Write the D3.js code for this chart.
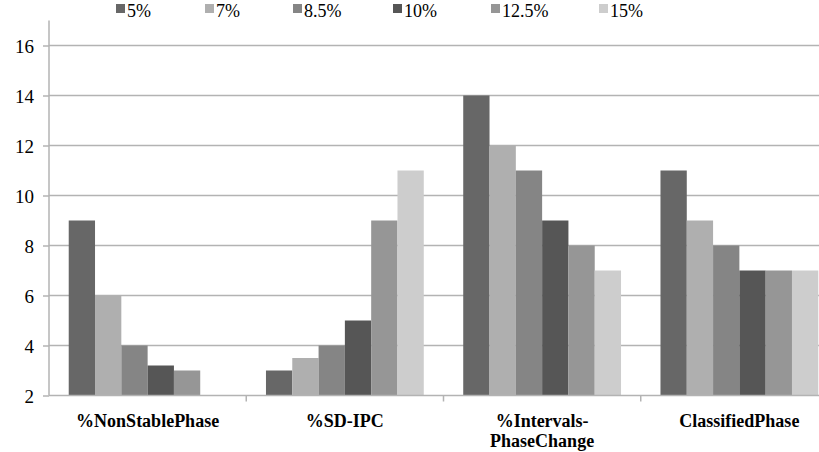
<!DOCTYPE html>
<html>
<head>
<meta charset="utf-8">
<script src="https://cdn.jsdelivr.net/npm/d3@7"></script>
<style>
  html, body { margin: 0; padding: 0; background: #fff; }
  svg { display: block; }
</style>
</head>
<body>
<svg id="chart" width="819" height="452" font-family="Liberation Serif"></svg>
<script>
// Metric categories (x axis)
const categories = ["%NonStablePhase", "%SD-IPC", "%Intervals-PhaseChange", "ClassifiedPhase"];
// Category label lines as drawn under the axis
const categoryLines = [["%NonStablePhase"], ["%SD-IPC"], ["%Intervals-", "PhaseChange"], ["ClassifiedPhase"]];
// Threshold series
const seriesNames = ["5%", "7%", "8.5%", "10%", "12.5%", "15%"];
// Values per series, one entry per category
const s5   = [9,   3,   14, 11];
const s7   = [6,   3.5, 12, 9];
const s85  = [4,   4,   11, 8];
const s10  = [3.2, 5,   9,  7];
const s125 = [3,   9,   8,  7];
const s15  = [2,   11,  7,  7];
const seriesValues = [s5, s7, s85, s10, s125, s15];
const seriesColors = ["#676767", "#afafaf", "#858585", "#565656", "#969696", "#cdcdcd"];
// Y axis
const yTicks = [2, 4, 6, 8, 10, 12, 14, 16];
const yDomain = [2, 17];

const serif = "Liberation Serif";

const svg = d3.select("#chart");
const plotLeft = 49, plotRight = 838, plotTop = 20.5, plotBottom = 395.5;

const x = d3.scaleBand().domain(categories).range([plotLeft, plotRight]).paddingInner(0).paddingOuter(0);
const inner = d3.scaleBand().domain(seriesNames).range([0, x.bandwidth()]).paddingInner(0).paddingOuter(0.75);
const y = d3.scaleLinear().domain(yDomain).range([plotBottom, plotTop]);

const gridColor = "#b3b3b3";

// Horizontal gridlines
svg.append("g")
  .selectAll("line")
  .data(yTicks.filter(d => d !== yDomain[0]))
  .join("line")
  .attr("x1", plotLeft).attr("x2", 819)
  .attr("y1", d => y(d)).attr("y2", d => y(d))
  .attr("stroke", gridColor).attr("stroke-width", 1.5);

// Bars
const data = [];
seriesNames.forEach((s, i) => {
  categories.forEach((c, j) => {
    data.push({ series: s, cat: c, value: seriesValues[i][j], color: seriesColors[i] });
  });
});
svg.append("g")
  .selectAll("rect")
  .data(data)
  .join("rect")
  .attr("x", d => x(d.cat) + inner(d.series))
  .attr("width", inner.bandwidth())
  .attr("y", d => y(d.value))
  .attr("height", d => y(yDomain[0]) - y(d.value))
  .attr("fill", d => d.color);

// Y axis
const yAxis = d3.axisLeft(y).tickValues(yTicks).tickSize(6).tickFormat(d3.format("d"));
const yg = svg.append("g").attr("transform", `translate(${plotLeft},0)`).call(yAxis);
yg.attr("font-family", serif).attr("font-size", 19);
yg.select(".domain").attr("stroke", gridColor).attr("stroke-width", 1.5).attr("d", `M0,${plotTop}V${plotBottom}`);
yg.selectAll(".tick line").attr("stroke", gridColor).attr("stroke-width", 1.5);
yg.selectAll(".tick text")
  .attr("x", -15)
  .attr("dy", "0.36em")
  .attr("font-family", serif)
  .attr("font-size", 19)
  .attr("fill", "#000");

// X axis line and category boundary ticks
const xg = svg.append("g");
xg.append("line")
  .attr("x1", plotLeft).attr("x2", 819)
  .attr("y1", plotBottom).attr("y2", plotBottom)
  .attr("stroke", gridColor).attr("stroke-width", 1.5);
xg.selectAll("line.bound")
  .data(categories.slice(1))
  .join("line")
  .attr("class", "bound")
  .attr("x1", d => x(d)).attr("x2", d => x(d))
  .attr("y1", plotBottom).attr("y2", plotBottom + 6)
  .attr("stroke", gridColor).attr("stroke-width", 1.5);

// Category labels
categories.forEach((c, j) => {
  const t = xg.append("text")
    .attr("x", x(c) + x.bandwidth() / 2)
    .attr("y", 427)
    .attr("text-anchor", "middle")
    .attr("font-family", serif)
    .attr("font-weight", "bold")
    .attr("font-size", 18)
    .attr("fill", "#000");
  categoryLines[j].forEach((line, k) => {
    t.append("tspan")
      .attr("x", x(c) + x.bandwidth() / 2)
      .attr("dy", k === 0 ? 0 : 20)
      .text(line);
  });
});

// Legend
const legendX = [116, 205, 293, 393, 491, 599];
const lg = svg.append("g");
seriesNames.forEach((s, i) => {
  const g = lg.append("g").attr("transform", `translate(${legendX[i]},0)`);
  g.append("rect").attr("x", 0).attr("y", 4).attr("width", 9).attr("height", 9).attr("fill", seriesColors[i]);
  g.append("text").attr("x", 11).attr("y", 17)
    .attr("font-family", serif)
    .attr("font-size", 18).attr("fill", "#000").text(s);
});
</script>
</body>
</html>
